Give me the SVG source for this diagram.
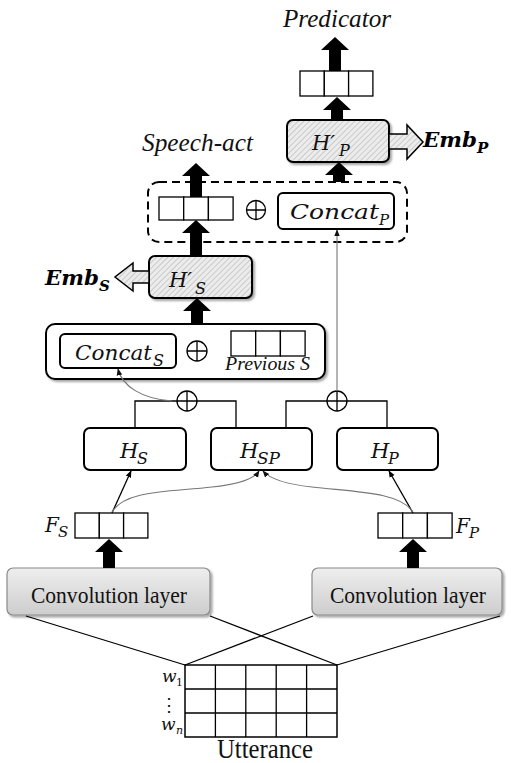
<svg xmlns="http://www.w3.org/2000/svg" width="511" height="763" viewBox="0 0 511 763">
<defs>
<pattern id="hatch" width="4" height="4" patternUnits="userSpaceOnUse" patternTransform="rotate(45)">
<rect width="4" height="4" fill="#ececec"/>
<line x1="0" y1="0" x2="0" y2="4" stroke="#a8a8a8" stroke-width="1"/>
</pattern>
<linearGradient id="conv" x1="0" y1="0" x2="0" y2="1">
<stop offset="0" stop-color="#eeeeee"/>
<stop offset="1" stop-color="#cdcdcd"/>
</linearGradient>
<filter id="sh" x="-10%" y="-10%" width="130%" height="140%">
<feDropShadow dx="2" dy="2" stdDeviation="1.2" flood-color="#000" flood-opacity="0.35"/>
</filter>
<marker id="ah" viewBox="0 0 10 10" refX="9" refY="5" markerWidth="7" markerHeight="7" orient="auto" markerUnits="userSpaceOnUse">
<path d="M0,1 L10,5 L0,9 z" fill="#000"/>
</marker>
<marker id="ahg" viewBox="0 0 10 10" refX="9" refY="5" markerWidth="7" markerHeight="7" orient="auto" markerUnits="userSpaceOnUse">
<path d="M0,1 L10,5 L0,9 z" fill="#111"/>
</marker>
</defs>
<style>
.box{fill:#fff;stroke:#000;stroke-width:2}
.hbox{fill:url(#hatch);stroke:#000;stroke-width:2}
.conv{fill:url(#conv);stroke:#8a8a8a;stroke-width:1.2}
.cell{fill:#fff;stroke:#000;stroke-width:1.3}
.ln{fill:none;stroke:#000;stroke-width:1.3}
.gl{fill:none;stroke:#777;stroke-width:1.1}
.big{fill:#000}
.hol{fill:url(#hatch);stroke:#000;stroke-width:1.5}
.op{fill:#fff;stroke:#000;stroke-width:1.3}
.it{font-family:"Liberation Serif",serif;font-style:italic;fill:#111}
.rm{font-family:"Liberation Serif",serif;fill:#111}
.m{font-family:"DejaVu Serif",serif;font-style:italic;fill:#111}
.mu{font-family:"DejaVu Serif",serif;fill:#111}
.bi{font-family:"DejaVu Serif",serif;font-style:italic;font-weight:bold;fill:#000}
</style>
<rect width="511" height="763" fill="#fff"/>

<g id="utterance">
<rect x="185" y="665" width="152" height="72" fill="#fff" stroke="#000" stroke-width="1.5"/>
<path class="ln" d="M215.4,665 V737 M245.8,665 V737 M276.2,665 V737 M306.6,665 V737 M185,689 H337 M185,713 H337"/>
<text class="m" x="162" y="682" font-size="17">w</text>
<text class="mu" x="176" y="686" font-size="11">1</text>
<text class="mu" x="169" y="711" font-size="18" text-anchor="middle">⋮</text>
<text class="m" x="161" y="730" font-size="17">w</text>
<text class="m" x="176" y="734" font-size="11">n</text>
<text class="rm" x="265" y="758" font-size="27" text-anchor="middle" textLength="96" lengthAdjust="spacingAndGlyphs">Utterance</text>
</g>

<g id="conv-left">
<rect class="conv" x="7" y="568" width="203" height="47" rx="6" filter="url(#sh)"/>
<text class="rm" x="109" y="603" font-size="24" text-anchor="middle" textLength="156" lengthAdjust="spacingAndGlyphs">Convolution layer</text>
</g>
<g id="conv-right">
<rect class="conv" x="312" y="568" width="190" height="47" rx="6" filter="url(#sh)"/>
<text class="rm" x="408" y="603" font-size="24" text-anchor="middle" textLength="156" lengthAdjust="spacingAndGlyphs">Convolution layer</text>
</g>

<g id="F_S">
<rect class="cell" x="75" y="513" width="24.3" height="25"/>
<rect class="cell" x="99.3" y="513" width="24.3" height="25"/>
<rect class="cell" x="123.6" y="513" width="24.3" height="25"/>
<text class="m" x="45" y="532" font-size="20">F</text>
<text class="m" x="58" y="537" font-size="15">S</text>
</g>
<g id="F_P">
<rect class="cell" x="378" y="513" width="24.7" height="25"/>
<rect class="cell" x="402.7" y="513" width="24.7" height="25"/>
<rect class="cell" x="427.4" y="513" width="24.7" height="25"/>
<text class="m" x="456" y="533" font-size="20">F</text>
<text class="m" x="469" y="538" font-size="15">P</text>
</g>

<g id="H_S">
<rect class="box" x="84" y="428" width="102" height="42" rx="6"/>
<text class="m" x="120" y="458" font-size="21">H</text>
<text class="m" x="137" y="464" font-size="16">S</text>
</g>
<g id="H_SP">
<rect class="box" x="211" y="428" width="101" height="42" rx="6"/>
<text class="m" x="240" y="458" font-size="21">H</text>
<text class="m" x="257" y="464" font-size="16" textLength="23" lengthAdjust="spacingAndGlyphs">SP</text>
</g>
<g id="H_P">
<rect class="box" x="337" y="428" width="101" height="42" rx="6"/>
<text class="m" x="371" y="458" font-size="21">H</text>
<text class="m" x="388" y="464" font-size="16">P</text>
</g>

<g id="oplus-left">
<circle class="op" cx="187" cy="401" r="10"/>
<path class="ln" d="M177,401 H197 M187,391 V411"/>
</g>
<g id="oplus-right">
<circle class="op" cx="337" cy="401" r="10"/>
<path class="ln" d="M327,401 H347 M337,391 V411"/>
</g>

<g id="concat-s-block">
<rect class="box" x="46" y="324" width="279" height="55" rx="9" filter="url(#sh)"/>
<rect class="box" x="60" y="334" width="116" height="34" rx="5" stroke-width="1.5"/>
<text class="m" x="75" y="360" font-size="21" textLength="77" lengthAdjust="spacingAndGlyphs">Concat</text>
<text class="m" x="153" y="366" font-size="16">S</text>
<circle class="op" cx="197" cy="351" r="10"/>
<path class="ln" d="M187,351 H207 M197,341 V361"/>
<rect class="cell" x="231" y="331" width="24.7" height="25"/>
<rect class="cell" x="255.7" y="331" width="24.7" height="25"/>
<rect class="cell" x="280.4" y="331" width="24.7" height="25"/>
<text class="it" x="225" y="370" font-size="18" textLength="85" lengthAdjust="spacingAndGlyphs">Previous S</text>
</g>

<g id="H_prime_S">
<rect class="hbox" x="149" y="256" width="103" height="42" rx="6" filter="url(#sh)"/>
<text class="m" x="169" y="287" font-size="21">H′</text>
<text class="m" x="195" y="294" font-size="16">S</text>
<text class="bi" x="45" y="285" font-size="21" textLength="54" lengthAdjust="spacingAndGlyphs">Emb</text>
<text class="bi" x="99" y="291" font-size="15">S</text>
</g>

<g id="speech-act-block">
<rect x="148" y="182" width="259" height="60" rx="11" fill="none" stroke="#000" stroke-width="2" stroke-dasharray="8,5"/>
<rect class="cell" x="159" y="197" width="24.7" height="23"/>
<rect class="cell" x="183.7" y="197" width="24.7" height="23"/>
<rect class="cell" x="208.4" y="197" width="24.7" height="23"/>
<circle class="op" cx="256" cy="210" r="9.5"/>
<path class="ln" d="M246.5,210 H265.5 M256,200.5 V219.5"/>
<rect class="box" x="278" y="193" width="116" height="36" rx="5" stroke-width="1.5"/>
<text class="m" x="290" y="219" font-size="21" textLength="89" lengthAdjust="spacingAndGlyphs">Concat</text>
<text class="m" x="379" y="225" font-size="15">P</text>
<text class="it" x="142" y="151" font-size="26" textLength="111" lengthAdjust="spacingAndGlyphs">Speech-act</text>
</g>

<g id="H_prime_P">
<rect class="hbox" x="287" y="120" width="102" height="42" rx="6" filter="url(#sh)"/>
<text class="m" x="312" y="150" font-size="21">H′</text>
<text class="m" x="339" y="156" font-size="16">P</text>
<text class="bi" x="423" y="147" font-size="21" textLength="54" lengthAdjust="spacingAndGlyphs">Emb</text>
<text class="bi" x="477" y="153" font-size="15">P</text>
</g>

<g id="predicator">
<rect class="cell" x="300" y="71" width="24.3" height="25"/>
<rect class="cell" x="324.3" y="71" width="24.3" height="25"/>
<rect class="cell" x="348.6" y="71" width="24.3" height="25"/>
<text class="it" x="283" y="27" font-size="26" textLength="108" lengthAdjust="spacingAndGlyphs">Predicator</text>
</g>

<g id="connectors">
<line class="ln" x1="26" y1="616" x2="185" y2="665"/>
<line class="ln" x1="210" y1="616" x2="337" y2="665"/>
<line class="ln" x1="313" y1="616" x2="185" y2="665"/>
<line class="ln" x1="500" y1="616" x2="337" y2="665"/>
<line class="ln" x1="112" y1="513" x2="131" y2="471" marker-end="url(#ah)"/>
<line class="ln" x1="413" y1="513" x2="389" y2="471" marker-end="url(#ah)"/>
<path class="gl" d="M112,512 C125,490 170,492 212,487 C240,484 254,479 259,471" marker-end="url(#ahg)"/>
<path class="gl" d="M413,512 C400,492 355,492 312,487 C284,484 270,479 263,471" marker-end="url(#ahg)"/>
<polyline class="ln" points="135,428 135,401 177,401"/>
<polyline class="ln" points="236,428 236,401 197,401"/>
<polyline class="ln" points="286,428 286,401 327,401"/>
<polyline class="ln" points="387,428 387,401 347,401"/>
<line class="gl" x1="337" y1="391" x2="337" y2="230" marker-end="url(#ahg)"/>
<path class="gl" d="M172,401 C142,399 122,386 118,369" marker-end="url(#ahg)"/>
<path class="big" d="M103,568 V552 H95 L109,539 L123,552 H115 V568 z"/>
<path class="big" d="M407,568 V552 H399 L413,539 L427,552 H419 V568 z"/>
<path class="big" d="M191,324 V311 H183 L197,298 L211,311 H203 V324 z"/>
<path class="big" d="M190,256 V233 H182 L196,220 L210,233 H202 V256 z"/>
<path class="big" d="M190,197 V176 H182 L196,163 L210,176 H202 V197 z"/>
<path class="big" d="M333,182 V175 H325 L339,162 L353,175 H345 V182 z"/>
<path class="big" d="M331,120 V110 H323 L337,97 L351,110 H343 V120 z"/>
<path class="big" d="M329,71 V50 H321 L335,37 L349,50 H341 V71 z"/>
<path class="hol" d="M149,271 H133 V263 L115,277 L133,291 V283 H149 z"/>
<path class="hol" d="M389,134 H407 V125 L423,142 L407,159 V149 H389 z"/>
</g>
</svg>
